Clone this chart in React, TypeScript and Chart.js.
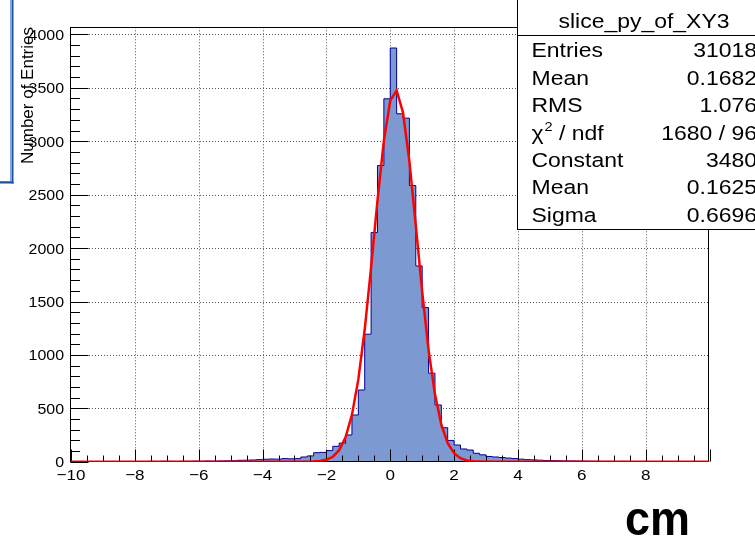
import React, { useEffect, useRef } from "react";
import { Chart, registerables } from "chart.js";

Chart.register(...registerables);

// ---- histogram definition (100 bins, -10 .. 10) ----
const binLow = -10;
const binHigh = 10;
const binWidth = 0.2;
const counts = [
  1, 2, 1, 2, 1, 2, 2, 1, 3, 2,
  3, 2, 4, 3, 5, 4, 3, 5, 4, 6,
  5, 7, 6, 8, 9, 10, 14, 15, 17, 20,
  24, 26, 25, 30, 28, 30, 45, 55, 85, 88,
  105, 145, 175, 251, 438, 672, 1194, 2145, 2773, 3397,
  3872, 3257, 3216, 2585, 1833, 1443, 829, 532, 319, 200,
  157, 120, 110, 80, 65, 50, 45, 40, 35, 30,
  25, 20, 18, 15, 12, 11, 10, 8, 8, 7,
  6, 5, 5, 4, 4, 3, 4, 3, 2, 3,
  2, 2, 1, 2, 1, 1, 2, 1, 1, 1,
];

// ---- gaussian fit curve as drawn ----
const fitX = [
  -10, -2.6, -2.4, -2.2, -2.0, -1.8, -1.6, -1.4, -1.2, -1.0, -0.8, -0.6, -0.4, -0.2,
  0.0, 0.2, 0.4, 0.6, 0.8, 1.0, 1.2, 1.4, 1.6, 1.8, 2.0, 2.2, 2.4, 2.6, 2.8, 3.0, 10,
];
const fitY = [
  0, 1, 2, 7, 19, 47, 109, 229, 439, 771, 1238, 1820, 2445, 3006,
  3379, 3475, 3268, 2811, 2212, 1592, 1048, 631, 347, 175, 81, 34, 13, 5, 2, 0, 0,
];

// ---- axes ----
const xTicks = [-10, -8, -6, -4, -2, 0, 2, 4, 6, 8];
const xMinorStep = 0.5;
const yTicks = [0, 500, 1000, 1500, 2000, 2500, 3000, 3500, 4000];
const yMinorStep = 100;
const yMax = 4066;
const xTitle = "cm";
const yTitle = "Number of Entries";

// ---- stats box ----
const statsTitle = "slice_py_of_XY3";
const statsNames = ["Entries", "Mean", "RMS", "CHI", "Constant", "Mean", "Sigma"];
const statsValues = ["31018", "0.1682", "1.076", "1680 / 96", "3480", "0.1625", "0.6696"];

const FONT = '"Liberation Sans", Arial, Helvetica, sans-serif';
const SX = 1.1;

function txt(ctx: CanvasRenderingContext2D, s: string, x: number, y: number, align: CanvasTextAlign, font: string, sx = SX) {
  ctx.save();
  ctx.font = font;
  ctx.translate(x, y);
  ctx.scale(sx, 1);
  ctx.textAlign = align;
  ctx.textBaseline = "alphabetic";
  ctx.fillText(s, 0, 0);
  ctx.restore();
}

function seg(ctx: CanvasRenderingContext2D, x1: number, y1: number, x2: number, y2: number) {
  ctx.beginPath();
  ctx.moveTo(x1, y1);
  ctx.lineTo(x2, y2);
  ctx.stroke();
}

const rootPlugin = {
  id: "rootStyle",
  beforeDatasetsDraw(chart: any) {
    const { ctx, chartArea: a, scales } = chart;
    const x = scales.x, y = scales.y;
    ctx.save();
    ctx.strokeStyle = "#555";
    ctx.lineWidth = 1;
    ctx.setLineDash([1, 2]);
    for (const t of xTicks) {
      if (t === binLow) continue;
      const px = Math.round(x.getPixelForValue(t)) + 0.5;
      seg(ctx, px, a.top, px, a.bottom);
    }
    for (const t of yTicks) {
      if (t === 0) continue;
      const py = Math.round(y.getPixelForValue(t)) + 0.5;
      seg(ctx, a.left, py, a.right, py);
    }
    ctx.restore();
  },
  afterDatasetDraw(chart: any, args: any) {
    if (args.index !== 0) return;
    const { ctx, scales } = chart;
    const x = scales.x, y = scales.y;
    const L = 70.5, R = 708.5, T = 27.5, B = 461.5;
    ctx.save();
    ctx.strokeStyle = "#000";
    ctx.lineWidth = 1;
    ctx.setLineDash([]);
    ctx.strokeRect(L, T, R - L, B - T);
    // x ticks
    for (let v = binLow; v <= binHigh + 1e-9; v += xMinorStep) {
      const px = Math.round(x.getPixelForValue(v)) + 0.5;
      const major = Math.abs(v / 2 - Math.round(v / 2)) < 1e-6;
      seg(ctx, px, B, px, B - (major ? 12 : 6));
    }
    // y ticks
    for (let v = 0; v <= yMax; v += yMinorStep) {
      const py = Math.round(y.getPixelForValue(v)) + 0.5;
      const major = v % 500 === 0;
      seg(ctx, L, py, L + (major ? 18 : 9.5), py);
    }
    ctx.restore();
  },
  afterDraw(chart: any) {
    const { ctx, scales } = chart;
    const x = scales.x, y = scales.y;
    ctx.save();
    ctx.fillStyle = "#000";
    // x labels
    for (const t of xTicks) {
      const s = t < 0 ? "\u2212" + Math.abs(t) : String(t);
      txt(ctx, s, x.getPixelForValue(t), 480, "center", `15.5px ${FONT}`);
    }
    // y labels
    for (const t of yTicks) {
      txt(ctx, String(t), 64, y.getPixelForValue(t) + 5.5, "right", `14.5px ${FONT}`);
    }
    // y title
    ctx.save();
    ctx.translate(33, 27);
    ctx.rotate(-Math.PI / 2);
    ctx.font = `17px ${FONT}`;
    ctx.textAlign = "right";
    ctx.textBaseline = "alphabetic";
    ctx.fillText(yTitle, 0, 0);
    ctx.restore();
    // x title
    ctx.save();
    ctx.font = `bold 48px ${FONT}`;
    const w = ctx.measureText(xTitle).width;
    ctx.translate(657.5, 535);
    ctx.scale(65 / w, 1);
    ctx.textAlign = "center";
    ctx.fillText(xTitle, 0, 0);
    ctx.restore();

    // stats box
    ctx.fillStyle = "#fff";
    ctx.fillRect(517, -2, 260, 231.5);
    ctx.strokeStyle = "#000";
    ctx.lineWidth = 1;
    ctx.strokeRect(517.5, -2, 260, 231.5);
    seg(ctx, 517.5, 35.5, 777, 35.5);
    ctx.fillStyle = "#000";
    const f = `20.5px ${FONT}`;
    txt(ctx, statsTitle, 644, 28, "center", f, 1.12);
    for (let i = 0; i < statsNames.length; i++) {
      const by = 57.3 + i * 27.4;
      if (statsNames[i] === "CHI") {
        ctx.save();
        ctx.font = f;
        let cx = 531.5;
        txt(ctx, "\u03C7", cx, by, "left", f, 1.12);
        cx += ctx.measureText("\u03C7").width * 1.12;
        txt(ctx, "2", cx + 1, by - 9, "left", `13px ${FONT}`, 1.12);
        ctx.font = `13px ${FONT}`;
        cx += ctx.measureText("2").width * 1.12 + 1;
        txt(ctx, " / ndf", cx, by, "left", f, 1.12);
        ctx.restore();
      } else {
        txt(ctx, statsNames[i], 531.5, by, "left", f, 1.12);
      }
      txt(ctx, statsValues[i], 757, by, "right", f, 1.12);
    }

    // left blue pave (cut off)
    ctx.strokeStyle = "#7fa8e0";
    ctx.lineWidth = 1;
    ctx.strokeRect(-5, -5, 15.5, 186.5);
    ctx.strokeStyle = "#1f4f9f";
    ctx.lineWidth = 2;
    seg(ctx, 12.5, -5, 12.5, 183.5);
    seg(ctx, -5, 182.5, 13.5, 182.5);
    ctx.restore();
  },
};

export default function App() {
  const ref = useRef<HTMLCanvasElement | null>(null);
  useEffect(() => {
    if (!ref.current) return;
    document.body.style.margin = "0";
    const histData = counts.map((c, i) => ({ x: binLow + i * binWidth, y: c }));
    histData.push({ x: binHigh, y: counts[counts.length - 1] });
    const fitData = fitX.map((v, i) => ({ x: v, y: fitY[i] }));
    const chart = new Chart(ref.current, {
      type: "line",
      data: {
        datasets: [
          {
            data: histData,
            stepped: "before",
            fill: "origin",
            backgroundColor: "#7d99d1",
            borderColor: "#000099",
            borderWidth: 1,
            pointRadius: 0,
            order: 1,
          } as any,
          {
            data: fitData,
            fill: false,
            borderColor: "#ff0000",
            borderWidth: 2.5,
            pointRadius: 0,
            tension: 0,
            order: 0,
          } as any,
        ],
      },
      options: {
        animation: false,
        responsive: false,
        maintainAspectRatio: false,
        devicePixelRatio: 1,
        events: [],
        layout: { padding: { left: 71, right: 45.5, top: 27.3, bottom: 75.2 } },
        plugins: { legend: { display: false }, tooltip: { enabled: false } },
        scales: {
          x: { type: "linear", min: binLow, max: binHigh, display: false },
          y: { type: "linear", min: 0, max: yMax, display: false },
        },
      },
      plugins: [rootPlugin as any],
    });
    return () => chart.destroy();
  }, []);
  return (
    <div style={{ position: "fixed", left: 0, top: 0, width: 755, height: 537, background: "#fff" }}>
      <canvas ref={ref} width={755} height={537} style={{ display: "block" }} />
    </div>
  );
}
